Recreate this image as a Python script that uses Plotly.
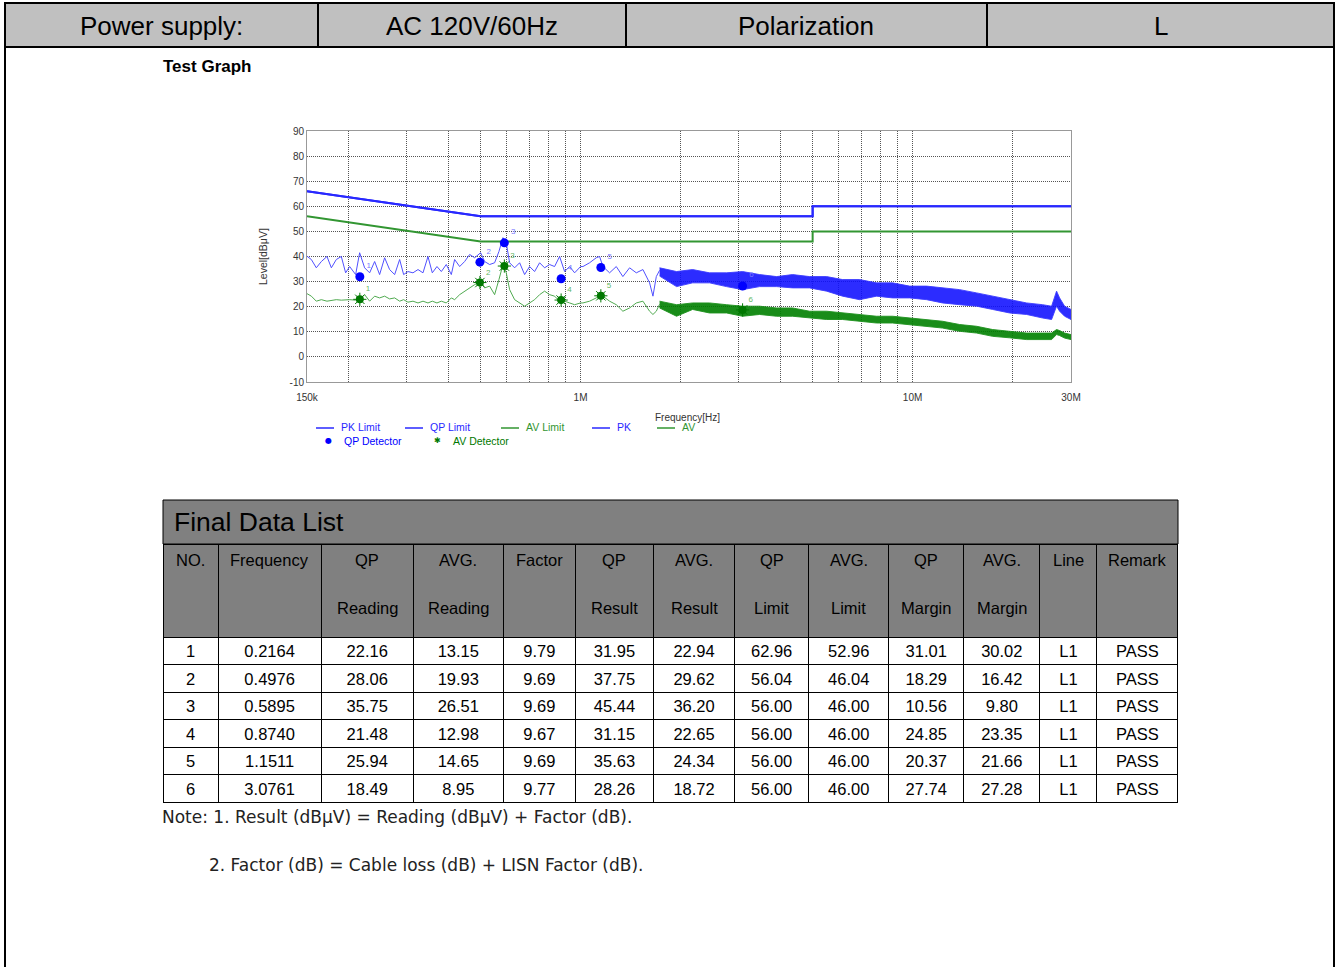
import plotly.graph_objects as go

W, H = 1338, 967
FONT = "Liberation Sans, Arial, sans-serif"
NOTE_FONT = "DejaVu Sans, Verdana, sans-serif"

# ---------------- header data ----------------
header_labels = ["Power supply:", "AC 120V/60Hz", "Polarization", "L"]

trace_freq_mhz = [0.150, 0.1546, 0.1600, 0.1657, 0.1723, 0.1776, 0.1838, 0.1903, 0.1961, 0.2016,
                  0.2102, 0.2161, 0.2237, 0.2316, 0.2398, 0.2482, 0.2570, 0.2660, 0.2755, 0.2852,
                  0.2932, 0.3021, 0.3128, 0.3239, 0.3353, 0.3471, 0.3577, 0.3694, 0.3808, 0.3941,
                  0.4081, 0.4176, 0.4324, 0.4476, 0.4634, 0.4798, 0.5001, 0.5142, 0.5322, 0.5510,
                  0.5678, 0.5838, 0.5974, 0.6114, 0.6330, 0.6554, 0.6784, 0.7024, 0.7271, 0.7528,
                  0.7793, 0.8068, 0.8352, 0.8647, 0.8953, 0.9268, 0.9596, 1.0002, 1.0167, 1.0647,
                  1.115, 1.141, 1.168, 1.223, 1.281, 1.341, 1.405, 1.472, 1.541, 1.614, 1.652, 1.691,
                  1.730]
pk_level = [40.1, 38.8, 35.5, 38.0, 40.0, 35.5, 38.8, 40.0, 33.5, 36.0,
            32.8, 41.5, 35.5, 33.5, 38.0, 32.8, 39.5, 34.8, 32.8, 38.8,
            32.8, 34.0, 33.5, 34.8, 33.5, 40.0, 33.5, 36.0, 34.0, 36.8,
            32.8, 38.8, 36.0, 38.0, 40.8, 39.5, 41.5, 38.0, 36.8, 37.5,
            42.0, 47.5, 45.5, 37.5, 35.5, 37.5, 32.8, 36.0, 34.0, 37.5,
            35.5, 36.8, 36.0, 40.0, 34.0, 36.0, 33.5, 36.0, 36.0, 37.5,
            39.5, 40.0, 36.0, 33.5, 36.0, 32.0, 35.5, 33.5, 34.8, 29.5, 24.2, 32.0,
            34.5]
av_level = [25.2, 24.2, 22.2, 22.8, 22.2, 22.6, 22.8, 22.6, 22.8, 22.8,
            22.6, 23.1, 24.8, 22.2, 24.2, 23.5, 24.2, 23.1, 23.5, 22.2,
            22.8, 21.8, 22.2, 21.5, 22.2, 21.5, 22.2, 21.5, 22.2, 21.5,
            23.5, 22.8, 24.8, 26.2, 27.5, 28.8, 30.2, 27.5, 28.2, 24.8,
            30.8, 36.8, 33.5, 26.8, 22.8, 21.5, 20.2, 21.5, 22.8, 24.8,
            26.2, 24.8, 24.2, 22.2, 22.2, 21.5, 20.8, 21.5, 21.5, 22.2,
            23.5, 24.8, 24.2, 22.2, 20.8, 18.2, 19.5, 21.5, 22.2, 18.2, 16.9, 18.2,
            21.0]

# dense part of the scan: upper / lower edges of the noise band
band_freq_mhz = [1.730, 1.946, 2.175, 2.446, 2.753, 3.076, 3.461, 3.894, 4.351, 4.895,
                 5.508, 6.155, 6.924, 7.790, 8.705, 9.795, 11.02, 12.31, 13.86, 15.59,
                 17.42, 19.60, 22.05, 24.64, 26.22, 27.14, 27.72, 28.70, 30.0]
pk_band_hi = [35.5, 34.0, 34.8, 33.5, 33.5, 34.0, 32.8, 32.0, 32.8, 32.0,
              32.0, 30.8, 30.8, 29.5, 29.5, 28.2, 28.2, 27.5, 26.8, 25.5,
              24.2, 22.8, 21.5, 20.8, 20.2, 26.2, 23.5, 20.2, 18.9]
pk_band_lo = [32.2, 28.0, 29.5, 29.5, 28.0, 26.8, 28.0, 28.0, 27.5, 27.5,
              26.2, 24.2, 22.8, 24.2, 23.5, 23.5, 22.8, 21.5, 20.8, 20.2,
              18.9, 17.5, 16.9, 15.5, 14.9, 20.2, 18.2, 16.2, 14.9]
av_band_hi = [22.2, 20.8, 21.5, 21.5, 20.8, 20.2, 20.2, 19.5, 19.5, 18.2,
              18.2, 17.5, 16.9, 16.2, 16.2, 15.5, 14.9, 14.2, 12.9, 12.2,
              10.9, 10.2, 9.5, 9.5, 9.5, 10.9, 10.5, 9.5, 8.9]
av_band_lo = [19.5, 16.2, 18.9, 17.5, 17.5, 16.2, 16.9, 16.2, 16.2, 15.5,
              14.9, 14.9, 14.2, 13.5, 13.5, 12.9, 12.2, 11.5, 10.2, 9.5,
              8.2, 7.6, 6.9, 6.9, 6.9, 8.9, 8.5, 7.5, 6.9]

# limit lines
limit_freq_mhz = [0.15, 0.5, 5.0, 5.0, 30.0]
qp_limit_line = [66, 56, 56, 60, 60]
av_limit_line = [56, 46, 46, 50, 50]

# axis ticks
grid_freq_mhz = [0.15, 0.2, 0.3, 0.4, 0.5, 0.6, 0.7, 0.8, 0.9, 1, 2, 3, 4, 5, 6, 7, 8, 9, 10, 20, 30]
grid_text = ["150k", "", "", "", "", "", "", "", "", "1M", "", "", "", "", "", "", "", "", "10M", "", "30M"]
y_ticks = [-10, 0, 10, 20, 30, 40, 50, 60, 70, 80, 90]
y_tick_text = ["-10", "0", "10", "20", "30", "40", "50", "60", "70", "80", "90"]

# ---------------- final data list ----------------
no = [1, 2, 3, 4, 5, 6]
freq = [0.2164, 0.4976, 0.5895, 0.8740, 1.1511, 3.0761]
qp_reading = [22.16, 28.06, 35.75, 21.48, 25.94, 18.49]
avg_reading = [13.15, 19.93, 26.51, 12.98, 14.65, 8.95]
factor = [9.79, 9.69, 9.69, 9.67, 9.69, 9.77]
qp_result = [31.95, 37.75, 45.44, 31.15, 35.63, 28.26]
avg_result = [22.94, 29.62, 36.20, 22.65, 24.34, 18.72]
qp_limit = [62.96, 56.04, 56.00, 56.00, 56.00, 56.00]
avg_limit = [52.96, 46.04, 46.00, 46.00, 46.00, 46.00]
qp_margin = [31.01, 18.29, 10.56, 24.85, 20.37, 27.74]
avg_margin = [30.02, 16.42, 9.80, 23.35, 21.66, 27.28]
line_col = ["L1"] * 6
remark = ["PASS"] * 6
header_line1 = ["NO.", "Frequency", "QP", "AVG.", "Factor", "QP", "AVG.", "QP", "AVG.", "QP", "AVG.", "Line", "Remark"]
header_line2 = ["", "", "Reading", "Reading", "", "Result", "Result", "Limit", "Limit", "Margin", "Margin", "", ""]
col_widths = [55, 103, 92, 90, 72, 78, 81, 74, 80, 75, 76, 57, 81]

BLUE = "rgb(40,40,255)"
BLUE_T = "rgb(80,80,255)"
GREEN = "rgb(50,150,50)"
AVG_DOT = "rgb(0,120,0)"

TABLE_X0, TABLE_X1 = 163, 1178


def xp(px):
    return px / W


def yp(py):
    return 1 - py / H


fig = go.Figure()

# limits
fig.add_trace(go.Scatter(x=limit_freq_mhz, y=qp_limit_line, mode="lines", name="PK Limit",
                         line=dict(color=BLUE, width=2), hoverinfo="skip"))
fig.add_trace(go.Scatter(x=limit_freq_mhz, y=qp_limit_line, mode="lines", name="QP Limit",
                         line=dict(color=BLUE, width=2), hoverinfo="skip"))
fig.add_trace(go.Scatter(x=limit_freq_mhz, y=av_limit_line, mode="lines", name="AV Limit",
                         line=dict(color=GREEN, width=2), hoverinfo="skip"))


def add_band(hi, lo, fill, edge, name):
    fig.add_trace(go.Scatter(x=band_freq_mhz + band_freq_mhz[::-1], y=hi + lo[::-1],
                             mode="lines", fill="toself", fillcolor=fill, name=name,
                             line=dict(color=edge, width=1), hoverinfo="skip"))


# PK scan
add_band(pk_band_hi, pk_band_lo, "rgba(15,15,255,0.88)", "rgba(60,60,255,0.9)", "PK")
fig.add_trace(go.Scatter(x=trace_freq_mhz, y=pk_level, mode="lines", name="PK",
                         line=dict(color=BLUE_T, width=1)))
# AV scan
add_band(av_band_hi, av_band_lo, "rgba(0,128,0,0.9)", "rgba(30,145,30,0.9)", "AV")
fig.add_trace(go.Scatter(x=trace_freq_mhz, y=av_level, mode="lines", name="AV",
                         line=dict(color="rgb(80,170,80)", width=1)))

# detectors
fig.add_trace(go.Scatter(x=freq, y=qp_result, mode="markers+text", name="QP Detector",
                         text=[str(n) for n in no], textposition="top right",
                         textfont=dict(family=FONT, size=8, color="rgb(120,120,255)"),
                         marker=dict(symbol="circle", size=9, color="rgb(0,0,255)")))
fig.add_trace(go.Scatter(x=freq, y=avg_result, mode="markers+text", name="AV Detector",
                         text=[str(n) for n in no], textposition="top right",
                         textfont=dict(family=FONT, size=8, color="rgb(100,185,100)"),
                         marker=dict(symbol="circle", size=8, color=AVG_DOT,
                                     line=dict(width=0))))
fig.add_trace(go.Scatter(x=freq, y=avg_result, mode="markers", name="AV Detector star",
                         marker=dict(symbol="asterisk-open", size=11, color=AVG_DOT,
                                     line=dict(color=AVG_DOT, width=1))))

# table (header texts are placed as annotations so each line is centred)
fmt2 = lambda arr: [f"{v:.2f}" for v in arr]
fig.add_trace(go.Table(
    domain=dict(x=[xp(TABLE_X0), xp(TABLE_X1)], y=[yp(806), yp(544)]),
    columnwidth=col_widths,
    header=dict(values=[""] * len(col_widths), fill_color="#808080", align="center",
                line=dict(color="black", width=1), height=93,
                font=dict(family=FONT, size=16, color="black")),
    cells=dict(values=[[str(n) for n in no], [f"{v:.4f}" for v in freq], fmt2(qp_reading),
                       fmt2(avg_reading), fmt2(factor), fmt2(qp_result), fmt2(avg_result),
                       fmt2(qp_limit), fmt2(avg_limit), fmt2(qp_margin), fmt2(avg_margin),
                       line_col, remark],
               fill_color="white", align="center", line=dict(color="black", width=1),
               height=27.5, font=dict(family=FONT, size=16.5, color="black")),
))

shapes = []
annotations = []

# table header labels
scale = (TABLE_X1 - TABLE_X0) / sum(col_widths)
left = TABLE_X0
for w, l1, l2 in zip(col_widths, header_line1, header_line2):
    cx = left + w * scale / 2
    left += w * scale
    annotations.append(dict(text=l1, xref="paper", yref="paper", x=xp(cx), y=yp(560), showarrow=False,
                            xanchor="center", yanchor="middle", font=dict(family=FONT, size=16.5, color="black")))
    if l2:
        annotations.append(dict(text=l2, xref="paper", yref="paper", x=xp(cx), y=yp(608), showarrow=False,
                                xanchor="center", yanchor="middle",
                                font=dict(family=FONT, size=16.5, color="black")))

# header row
hdr_edges = [5, 318, 626, 987, 1334]
shapes.append(dict(type="rect", xref="paper", yref="paper", x0=xp(5), x1=xp(1334), y0=yp(47), y1=yp(3),
                   fillcolor="#c0c0c0", line=dict(color="black", width=2), layer="below"))
for e in hdr_edges[1:-1]:
    shapes.append(dict(type="line", xref="paper", yref="paper", x0=xp(e), x1=xp(e), y0=yp(47), y1=yp(3),
                       line=dict(color="black", width=2)))
for i, lab in enumerate(header_labels):
    annotations.append(dict(text=lab, xref="paper", yref="paper", x=xp((hdr_edges[i] + hdr_edges[i + 1]) / 2),
                            y=yp(26), showarrow=False, xanchor="center", yanchor="middle",
                            font=dict(family=FONT, size=26, color="black")))
# outer frame
for xe in [5, 1334]:
    shapes.append(dict(type="line", xref="paper", yref="paper", x0=xp(xe), x1=xp(xe), y0=yp(967), y1=yp(47),
                       line=dict(color="black", width=2)))

annotations.append(dict(text="<b>Test Graph</b>", xref="paper", yref="paper", x=xp(161), y=yp(67),
                        showarrow=False, xanchor="left", yanchor="middle",
                        font=dict(family=FONT, size=17, color="black")))

# axis titles
annotations.append(dict(text="Level[dBμV]", xref="paper", yref="paper", x=xp(263), y=yp(257),
                        textangle=-90, showarrow=False, xanchor="center", yanchor="middle",
                        font=dict(family=FONT, size=10.5, color="#333")))
annotations.append(dict(text="Frequency[Hz]", xref="paper", yref="paper", x=xp(653), y=yp(417),
                        showarrow=False, xanchor="left", yanchor="middle",
                        font=dict(family=FONT, size=10, color="#333")))

# legend (drawn)
leg_row1 = [("PK Limit", BLUE, 316), ("QP Limit", BLUE, 405), ("AV Limit", GREEN, 501),
            ("PK", BLUE, 592), ("AV", GREEN, 657)]
for lab, col, x0 in leg_row1:
    shapes.append(dict(type="line", xref="paper", yref="paper", x0=xp(x0), x1=xp(x0 + 18), y0=yp(428), y1=yp(428),
                       line=dict(color=col, width=1.5)))
    annotations.append(dict(text=lab, xref="paper", yref="paper", x=xp(x0 + 23), y=yp(427), showarrow=False,
                            xanchor="left", yanchor="middle", font=dict(family=FONT, size=10.5, color=col)))
leg_row2 = [("QP Detector", "rgb(0,0,255)", 328, "●"), ("AV Detector", "rgb(0,120,0)", 437, "✱")]
for lab, col, x0, sym in leg_row2:
    annotations.append(dict(text=sym, xref="paper", yref="paper", x=xp(x0), y=yp(441), showarrow=False,
                            xanchor="center", yanchor="middle", font=dict(family="DejaVu Sans", size=8, color=col)))
    annotations.append(dict(text=lab, xref="paper", yref="paper", x=xp(x0 + 14), y=yp(441), showarrow=False,
                            xanchor="left", yanchor="middle", font=dict(family=FONT, size=10.5, color=col)))

# table title row
shapes.append(dict(type="rect", xref="paper", yref="paper", x0=xp(TABLE_X0), x1=xp(TABLE_X1), y0=yp(544), y1=yp(500),
                   fillcolor="#808080", line=dict(color="black", width=1)))
annotations.append(dict(text="Final Data List", xref="paper", yref="paper", x=xp(172), y=yp(522),
                        showarrow=False, xanchor="left", yanchor="middle",
                        font=dict(family=FONT, size=26.5, color="black")))
# notes
annotations.append(dict(text="Note: 1. Result (dBμV) = Reading (dBμV) + Factor (dB).", xref="paper", yref="paper",
                        x=xp(160), y=yp(817), showarrow=False, xanchor="left", yanchor="middle",
                        font=dict(family=NOTE_FONT, size=17, color="#222")))
annotations.append(dict(text="2. Factor (dB) = Cable loss (dB) + LISN Factor (dB).", xref="paper", yref="paper",
                        x=xp(207), y=yp(865), showarrow=False, xanchor="left", yanchor="middle",
                        font=dict(family=NOTE_FONT, size=17, color="#222")))

fig.update_layout(
    width=W, height=H, margin=dict(l=0, r=0, t=0, b=0, pad=0, autoexpand=False),
    paper_bgcolor="white", plot_bgcolor="white", showlegend=False,
    font=dict(family=FONT),
    shapes=shapes, annotations=annotations,
    xaxis=dict(type="log", domain=[xp(307), xp(1071)], range=[-0.8239, 1.4771],
               tickvals=grid_freq_mhz, ticktext=grid_text, showgrid=True, gridcolor="#555",
               griddash="1px,1px", gridwidth=1, showline=True, linecolor="#999", mirror=True,
               zeroline=False, ticks="", automargin=False, ticklabelstandoff=6,
               tickfont=dict(family=FONT, size=10, color="#333")),
    yaxis=dict(domain=[yp(382), yp(131)], range=[-10, 90], tickvals=y_ticks, ticktext=y_tick_text,
               showgrid=True, gridcolor="#555", griddash="1px,1px", gridwidth=1, showline=True,
               linecolor="#999", mirror=True, zeroline=False, ticks="", automargin=False,
               tickfont=dict(family=FONT, size=10, color="#333")),
)

fig.write_html("out.html", config={"displayModeBar": False},
               post_script="document.body.style.margin='0';document.body.style.overflow='hidden';")
